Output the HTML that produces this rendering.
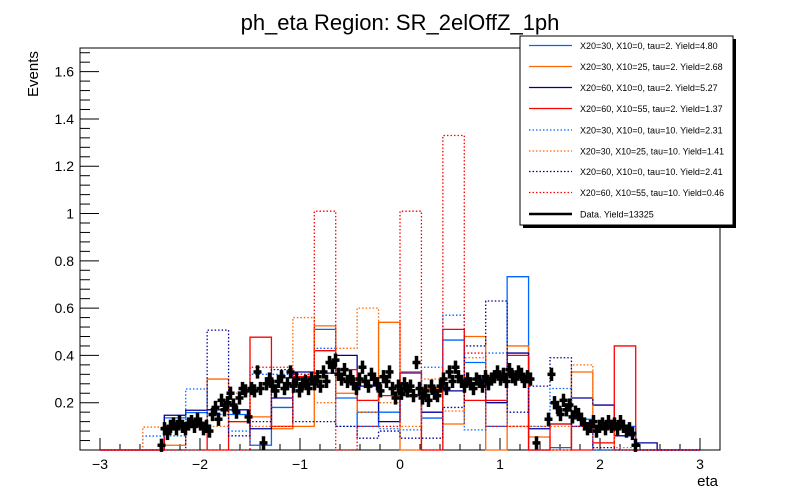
<!DOCTYPE html>
<html><head><meta charset="utf-8"><style>
html,body{margin:0;padding:0;background:#fff;}
svg{display:block;font-family:"Liberation Sans",sans-serif;}
</style></head><body>
<svg id="chart" width="800" height="500" viewBox="0 0 800 500">
<text x="400" y="30" text-anchor="middle" font-size="22">ph_eta Region: SR_2elOffZ_1ph</text>
<rect x="80" y="48" width="640" height="402" fill="none" stroke="#000" stroke-width="1"/>
<g id="axes"></g>
<g id="hists"></g>
<g id="datapts"></g>
<text x="0" y="0" transform="translate(38,97) rotate(-90)" font-size="15">Events</text>
<text x="718" y="486" text-anchor="end" font-size="15">eta</text>
<g id="legend"></g>
</svg>
<script>
const binEdgesLo = -3, binEdgesHi = 3, nBins = 28;
const blueSolid    = [0,0,0,0.136,0.158,0.17,0.15,0.02,0.18,0.30,0.51,0.22,0.10,0.16,0.33,0.135,0.465,0.37,0.10,0.733,0,0.01,0.13,0.09,0.10,0,0,0];
const orangeSolid  = [0,0,0,0.02,0.12,0.30,0.12,0.14,0.09,0.10,0.525,0.24,0.16,0.54,0,0.26,0.11,0.48,0,0.44,0.055,0,0.33,0.09,0,0,0,0];
const darkSolid    = [0,0,0,0.147,0.168,0.17,0.17,0.09,0.22,0.33,0.325,0.40,0.27,0.12,0.23,0.16,0.25,0.30,0.20,0.41,0.09,0.11,0.22,0.19,0.06,0.03,0,0];
const redSolid     = [0,0,0,0.10,0.10,0,0.12,0.477,0.10,0.31,0.42,0.34,0.21,0.23,0.325,0,0.51,0.21,0.21,0.40,0,0.11,0,0.03,0.44,0,0,0];
const blueDotted   = [0,0,0.059,0.06,0.258,0.15,0.08,0.32,0.32,0.32,0.43,0.10,0.16,0.09,0.085,0.35,0.57,0.085,0.41,0.10,0.10,0.26,0.10,0,0,0,0,0];
const orangeDotted = [0,0,0.097,0.10,0.10,0.10,0.24,0.10,0.10,0.56,0.20,0.43,0.60,0.20,0.10,0.30,0.165,0.39,0.32,0.10,0.10,0.10,0.36,0.10,0.01,0,0,0];
const darkDotted   = [0,0,0,0,0.10,0.507,0.06,0.12,0.34,0.12,0.12,0.10,0.05,0.08,0.05,0.05,0.18,0.44,0.63,0.16,0.27,0.39,0.10,0.01,0,0,0,0];
const redDotted    = [0,0,0,0,0,0,0,0.35,0.35,0.32,1.01,0,0.10,0.10,1.01,0,1.33,0.41,0.10,0.10,0,0,0.10,0.03,0,0,0,0];
const seriesLabels = ["X20=30, X10=0, tau=2. Yield=4.80","X20=30, X10=25, tau=2. Yield=2.68","X20=60, X10=0, tau=2. Yield=5.27","X20=60, X10=55, tau=2. Yield=1.37","X20=30, X10=0, tau=10. Yield=2.31","X20=30, X10=25, tau=10. Yield=1.41","X20=60, X10=0, tau=10. Yield=2.41","X20=60, X10=55, tau=10. Yield=0.46"];
const dataLabel = "Data. Yield=13325";
const dataEtaStart = -2.385, dataEtaStep = 0.03;
const dataVal = [0.02,0.09,0.07,0.10,
0.11,0.09,0.12,0.10,0.09,0.11,0.12,0.10,0.13,0.11,0.09,0.10,0.08,
0.15,0.18,0.13,0.21,0.17,0.20,0.24,0.19,0.16,0.22,
0.26,0.25,0.14,0.26,0.25,0.33,
0.26,0.03,0.28,
0.30,0.27,0.25,0.29,0.31,0.26,0.28,0.33,0.27,0.30,0.25,0.28,0.29,0.26,0.30,0.28,0.31,0.27,0.33,0.29,
0.37,0.35,0.38,0.32,0.30,0.34,0.29,
0.31,0.28,0.26,0.30,0.35,0.29,0.27,0.32,0.30,0.28,0.25,0.31,0.29,0.33,0.26,0.22,
0.27,0.24,0.28,0.25,0.27,0.23,0.37,
0.26,0.22,0.25,0.21,0.27,0.24,0.23,
0.27,0.30,0.26,0.33,0.29,0.35,0.31,
0.29,0.27,0.30,0.28,0.26,0.30,0.29,0.27,0.31,0.28,0.30,
0.31,0.33,0.30,0.32,0.29,0.34,0.31,0.30,0.33,0.32,0.29,0.31,
0.30,null,0.03,null,null,null,0.13,0.32,
0.20,0.18,0.15,0.21,0.17,0.19,0.14,0.16,0.15,0.13,
0.11,0.09,0.10,0.12,0.08,0.10,0.11,0.09,0.12,0.10,0.11,0.09,0.12,0.10,0.08,0.09,0.07,
0.02];
const xTickLabels = ["−3","−2","−1","0","1","2","3"];
const xTickVals = [-3,-2,-1,0,1,2,3];
const yTickLabels = ["0.2","0.4","0.6","0.8","1","1.2","1.4","1.6"];
const yTickVals = [0.2,0.4,0.6,0.8,1.0,1.2,1.4,1.6];

const NS="http://www.w3.org/2000/svg";
const X = e => 80 + (e + 3.2) / 6.4 * 640;
const Y = v => 450 - v / 1.7 * 402;
function mk(tag, attrs, parent){const el=document.createElementNS(NS,tag);for(const k in attrs)el.setAttribute(k,attrs[k]);parent.appendChild(el);return el;}

const ax=document.getElementById('axes');
for(let m=-3.2;m<=3.2001;m+=0.2){const mm=Math.round(m*10)/10;const major=Math.abs(mm-Math.round(mm))<1e-6;
 const t=mk('line',{x1:X(mm),x2:X(mm),y1:450,y2:450-(major?12:6),stroke:'#000','stroke-width':1},ax);
 
 }
xTickVals.forEach((v,i)=>{const t=mk('text',{x:X(v),y:469,'text-anchor':'middle','font-size':14},ax);t.textContent=xTickLabels[i];
 
 });
for(let k=1;k<=42;k++){const v=k*0.04;const major=k%5===0;
 const t=mk('line',{x1:80,x2:80+(major?19:10),y1:Y(v),y2:Y(v),stroke:'#000','stroke-width':1},ax);
 
 }
yTickVals.forEach((v,i)=>{const t=mk('text',{x:74,y:Y(v)+5,'text-anchor':'end','font-size':14},ax);t.textContent=yTickLabels[i];
 
 });

const series=[[blueSolid,'#0066ff',false],[orangeSolid,'#ff6600',false],[darkSolid,'#000099',false],[redSolid,'#ff0000',false],
 [blueDotted,'#0066ff',true],[orangeDotted,'#ff6600',true],[darkDotted,'#000099',true],[redDotted,'#ff0000',true]];
const hg=document.getElementById('hists');
const bw=(binEdgesHi-binEdgesLo)/nBins;
series.forEach((s,si)=>{const vals=s[0];let d=`M${X(binEdgesLo)},${Y(0)}`;
 vals.forEach((v,k)=>{const lo=binEdgesLo+k*bw,hi=lo+bw;d+=` L${X(lo)},${Y(v)} L${X(hi)},${Y(v)}`;});
 d+=` L${X(binEdgesHi)},${Y(0)}`;
 const p=mk('path',{d:d,fill:'none',stroke:s[1],'stroke-width':1.3},hg);
 if(s[2])p.setAttribute('stroke-dasharray','1.5 2');
 
 });

const dg=document.getElementById('datapts');
dataVal.forEach((v,i)=>{if(v===null)return;const e=dataEtaStart+i*dataEtaStep;const cx=X(e),cy=Y(v);
 const g=mk('g',{},dg);
 
 
 mk('line',{x1:cx-4,x2:cx+4,y1:cy,y2:cy,stroke:'#000','stroke-width':3.5},g);
 mk('line',{x1:cx,x2:cx,y1:Y(v+0.028),y2:Y(v-0.028),stroke:'#000','stroke-width':3.5},g);});

const lg=document.getElementById('legend');
mk('rect',{x:523,y:39,width:213,height:189,fill:'#000'},lg);
const box=mk('rect',{x:520,y:36,width:213,height:189,fill:'#fff',stroke:'#000','stroke-width':1},lg);


const rowY=[45.5,66.5,87.5,108.5,130,151,171.5,192.5,214];
series.forEach((s,i)=>{const g=mk('g',{},lg);
 
 
 const l=mk('line',{x1:529,x2:572,y1:rowY[i],y2:rowY[i],stroke:s[1],'stroke-width':1.3},g);
 if(s[2])l.setAttribute('stroke-dasharray','1.5 2');
 const t=mk('text',{x:580,y:rowY[i]+3.5,'font-size':9},g);t.textContent=seriesLabels[i];
 const w=t.getComputedTextLength();if(w>144){t.setAttribute('textLength',144);t.setAttribute('lengthAdjust','spacingAndGlyphs');}});
const g=mk('g',{},lg);


mk('line',{x1:529,x2:572,y1:rowY[8],y2:rowY[8],stroke:'#000','stroke-width':2.5},g);
const t=mk('text',{x:580,y:rowY[8]+3.5,'font-size':9},g);t.textContent=dataLabel;
</script>
</body></html>
